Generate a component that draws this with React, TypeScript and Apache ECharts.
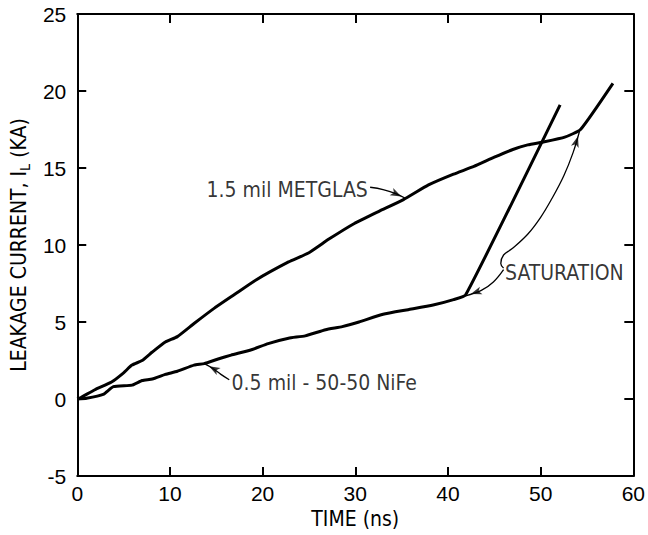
import React, { useEffect, useRef } from 'react';
import * as echarts from 'echarts';

// ---- data ----
const xTickValues = [0, 10, 20, 30, 40, 50, 60];
const yTickValues = [-5, 0, 5, 10, 15, 20, 25];

// 1.5 mil METGLAS core (time ns, current kA)
const metglas: [number, number][] = [
  [0, 0], [0.4, 0.1], [1.9, 0.6], [3.7, 1.1], [5.0, 1.7], [5.9, 2.2], [7.0, 2.5],
  [8.1, 3.05], [9.5, 3.7], [10.8, 4.05], [12.6, 4.9], [14.8, 5.9], [17.0, 6.8],
  [19.2, 7.7], [22.8, 8.9], [25.0, 9.5], [27.2, 10.4], [29.9, 11.4], [32.6, 12.2],
  [35.2, 12.95], [37.9, 13.9], [40.6, 14.6], [42.8, 15.1], [45.0, 15.7],
  [47.0, 16.2], [48.6, 16.5], [50.4, 16.7], [52.6, 17.0], [54.3, 17.5],
  [57.8, 20.5],
];

// 0.5 mil 50-50 NiFe core
const nife: [number, number][] = [
  [0, 0], [1.0, 0.05], [2.8, 0.3], [3.9, 0.8], [5.9, 0.9], [7.0, 1.2], [8.1, 1.3],
  [9.5, 1.6], [10.8, 1.8], [12.6, 2.2], [13.7, 2.3], [15.2, 2.6], [16.6, 2.85],
  [18.8, 3.2], [20.6, 3.6], [22.8, 3.95], [24.6, 4.1], [26.8, 4.5], [28.6, 4.7],
  [30.4, 5.0], [33.0, 5.5], [35.7, 5.8], [38.4, 6.1], [40.6, 6.45], [41.9, 6.75],
  [52.1, 19.1],
];

// annotation arrows (body points, then the arrow-head tip)
const satArrowUp: [number, number][] = [
  [46.0, 8.5], [45.7, 8.8], [46.0, 9.35], [46.9, 9.75], [48.6, 10.7], [50.0, 11.8],
  [51.2, 13.0], [52.5, 14.5], [53.5, 16.0],
];
const satArrowUpHead: [number, number] = [54.2, 17.4];
const satArrowLow: [number, number][] = [[46.0, 8.4], [44.9, 7.6], [43.6, 7.05]];
const satArrowLowHead: [number, number] = [41.9, 6.7];
const metglasArrow: [number, number][] = [[31.6, 13.75], [33.0, 13.6], [34.3, 13.35]];
const metglasArrowHead: [number, number] = [35.5, 13.0];
const nifeArrow: [number, number][] = [[16.4, 1.25], [15.5, 1.6], [14.6, 2.0]];
const nifeArrowHead: [number, number] = [13.7, 2.3];

const arrows: [[number, number][], [number, number]][] = [
  [satArrowUp, satArrowUpHead],
  [satArrowLow, satArrowLowHead],
  [metglasArrow, metglasArrowHead],
  [nifeArrow, nifeArrowHead],
];

// text annotations: [x, y, text]
const annotations: [number, number, string][] = [
  [13.9, 13.55, '1.5 mil METGLAS'],
  [16.6, 1.05, '0.5 mil - 50-50 NiFe'],
  [46.1, 8.2, 'SATURATION'],
];

const NUM_FONT = "'Liberation Sans', Arial, sans-serif";
const TXT_FONT = "'Liberation Sans Narrow', 'DejaVu Sans Condensed', 'Liberation Sans', sans-serif";
const HEAD_LEN = 11;
const HEAD_W = 6;

export default function App() {
  const ref = useRef<HTMLDivElement>(null);
  useEffect(() => {
    if (!ref.current) return;
    const chart = echarts.init(ref.current, undefined, { renderer: 'svg' });
    const axisLine = { show: true, onZero: false, lineStyle: { color: '#000', width: 2 } };
    const axisTick = { show: true, inside: true, length: 9, lineStyle: { color: '#000', width: 2 } };

    const baseSeries: any[] = [
      {
        name: 'METGLAS', type: 'line', data: metglas, symbol: 'none', smooth: 0.15,
        lineStyle: { color: '#000', width: 3 },
      },
      {
        name: 'NiFe', type: 'line', data: nife, symbol: 'none', smooth: 0.15,
        lineStyle: { color: '#000', width: 3 },
      },
      ...arrows.map(([body, head], i) => ({
        name: 'arrow' + i, type: 'line', data: [...body, head], smooth: 0.4,
        symbol: 'none', silent: true,
        lineStyle: { color: '#000', width: 1.3 },
      })),
      {
        name: 'labels', type: 'scatter', symbolSize: 1,
        itemStyle: { color: 'rgba(0,0,0,0)' },
        silent: true,
        data: annotations.map(([x, y, t]) => ({
          value: [x, y],
          label: {
            show: true, position: 'right', distance: 0, formatter: t,
            color: '#000', fontSize: 21, fontFamily: TXT_FONT,
          },
        })),
      },
    ];

    chart.setOption({
      animation: false,
      backgroundColor: '#fff',
      grid: { left: 77, right: 11, top: 14, bottom: 59, containLabel: false },
      xAxis: [
        {
          type: 'value', min: 0, max: 60, interval: 10, position: 'bottom',
          axisLine, axisTick, splitLine: { show: false },
          axisLabel: { color: '#000', fontSize: 21, fontFamily: NUM_FONT, margin: 7 },
          name: 'TIME (ns)', nameLocation: 'middle', nameGap: 31,
          nameTextStyle: { color: '#000', fontSize: 21, fontFamily: TXT_FONT },
        },
        {
          type: 'value', min: 0, max: 60, interval: 10, position: 'top',
          axisLine, axisTick, axisLabel: { show: false }, splitLine: { show: false },
        },
      ],
      yAxis: [
        {
          type: 'value', min: -5, max: 25, interval: 5, position: 'left',
          axisLine, axisTick, splitLine: { show: false },
          axisLabel: { color: '#000', fontSize: 21, fontFamily: NUM_FONT, margin: 11 },
          name: '{a|LEAKAGE CURRENT, I}{s|L}{a| (KA)}',
          nameLocation: 'middle', nameGap: 44,
          nameTextStyle: {
            color: '#000',
            rich: {
              a: { fontSize: 21, fontFamily: TXT_FONT, color: '#000', lineHeight: 24, verticalAlign: 'top' },
              s: { fontSize: 14, fontFamily: TXT_FONT, color: '#000', lineHeight: 14, padding: [10, 0, 0, 0], verticalAlign: 'top' },
            },
          },
        },
        {
          type: 'value', min: -5, max: 25, interval: 5, position: 'right',
          axisLine, axisTick, axisLabel: { show: false }, splitLine: { show: false },
        },
      ],
      series: baseSeries,
    });

    // arrow heads: place an 'arrow' symbol at each tip, rotated along the last segment
    const headData = arrows.map(([body, head]) => {
      const last = body[body.length - 1];
      const p1 = chart.convertToPixel({ gridIndex: 0 }, last) as number[];
      const p2 = chart.convertToPixel({ gridIndex: 0 }, head) as number[];
      const dx = p2[0] - p1[0];
      const dy = p2[1] - p1[1];
      const len = Math.hypot(dx, dy) || 1;
      const ux = dx / len;
      const uy = dy / len;
      const c = [p2[0] - ux * HEAD_LEN / 2, p2[1] - uy * HEAD_LEN / 2];
      const v = chart.convertFromPixel({ gridIndex: 0 }, c) as number[];
      const rot = (Math.atan2(-ux, -uy) * 180) / Math.PI;
      return { value: v, symbolRotate: rot };
    });

    chart.setOption({
      series: [
        ...baseSeries,
        {
          name: 'arrowHeads', type: 'scatter', symbol: 'arrow',
          symbolSize: [HEAD_W, HEAD_LEN], silent: true,
          itemStyle: { color: '#000' },
          data: headData,
        },
      ],
    });

    return () => chart.dispose();
  }, []);
  return (
    <div
      ref={ref}
      style={{ position: 'absolute', left: 0, top: 0, width: 648, height: 535 }}
    />
  );
}
